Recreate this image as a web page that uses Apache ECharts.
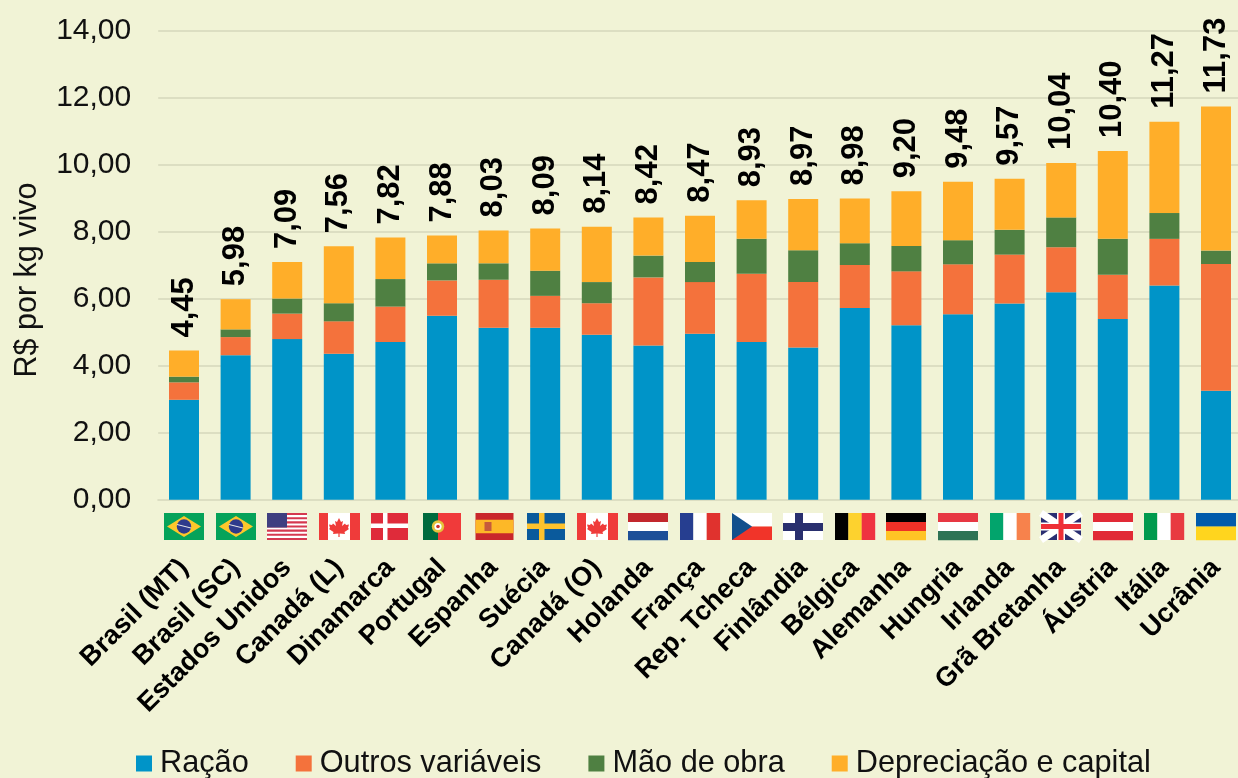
<!DOCTYPE html>
<html>
<head>
<meta charset="utf-8">
<script src="https://cdn.jsdelivr.net/npm/echarts@6/dist/echarts.min.js"></script>
<style>
  html, body { margin: 0; padding: 0; background: #f1f3d6; }
  #chart { width: 1238px; height: 778px; }
</style>
</head>
<body>
<div id="chart"></div>
<script type="text/javascript">
var paises = ['Brasil (MT)', 'Brasil (SC)', 'Estados Unidos', 'Canadá (L)', 'Dinamarca', 'Portugal', 'Espanha', 'Suécia', 'Canadá (O)', 'Holanda', 'França', 'Rep. Tcheca', 'Finlândia', 'Bélgica', 'Alemanha', 'Hungria', 'Irlanda', 'Grã Bretanha', 'Áustria', 'Itália', 'Ucrânia'];
var bandeiras = ['br', 'br', 'us', 'ca', 'dk', 'pt', 'es', 'se', 'ca', 'nl', 'fr', 'cz', 'fi', 'be', 'de', 'hu', 'ie', 'gb', 'at', 'it', 'ua'];
var racao = [2.98, 4.31, 4.79, 4.35, 4.70, 5.49, 5.13, 5.13, 4.92, 4.60, 4.95, 4.70, 4.54, 5.72, 5.20, 5.53, 5.85, 6.19, 5.39, 6.39, 3.25];
var outros = [0.52, 0.54, 0.76, 0.97, 1.06, 1.05, 1.43, 0.95, 0.94, 2.03, 1.54, 2.04, 1.95, 1.28, 1.61, 1.49, 1.46, 1.34, 1.32, 1.39, 3.78];
var maoDeObra = [0.17, 0.23, 0.45, 0.54, 0.82, 0.51, 0.49, 0.75, 0.63, 0.65, 0.60, 1.04, 0.95, 0.65, 0.76, 0.72, 0.74, 0.89, 1.07, 0.77, 0.40];
var depreciacao = [0.78, 0.90, 1.09, 1.70, 1.24, 0.83, 0.98, 1.26, 1.65, 1.14, 1.38, 1.15, 1.53, 1.33, 1.63, 1.74, 1.52, 1.62, 2.62, 2.72, 4.30];
var totais = [4.45, 5.98, 7.09, 7.56, 7.82, 7.88, 8.03, 8.09, 8.14, 8.42, 8.47, 8.93, 8.97, 8.98, 9.20, 9.48, 9.57, 10.04, 10.40, 11.27, 11.73];

var fonte = '"Liberation Sans", Arial, sans-serif';
var virgula = function (v) { return v.toFixed(2).replace('.', ','); };

// desenho das bandeiras, caixa de 40 x 27
function ret(x, y, w, h, cor) {
    return { type: 'rect', shape: { x: x, y: y, width: w, height: h }, style: { fill: cor } };
}
function pol(pontos, cor) {
    return { type: 'polygon', shape: { points: pontos }, style: { fill: cor } };
}
function circ(x, y, r, cor) {
    return { type: 'circle', shape: { cx: x, cy: y, r: r }, style: { fill: cor } };
}
function linha(x1, y1, x2, y2, w, cor) {
    return { type: 'line', shape: { x1: x1, y1: y1, x2: x2, y2: y2 }, style: { stroke: cor, lineWidth: w } };
}
function faixasH(c) {
    return c.map(function (cor, i) { return ret(0, i * 27 / c.length, 40, 27 / c.length + 0.2, cor); });
}
function faixasV(c) {
    return c.map(function (cor, i) { return ret(i * 40 / c.length, 0, 40 / c.length + 0.2, 27, cor); });
}
function folha() {
    var p = [[20, 5], [22, 9], [24, 8], [23, 13], [26, 10.5], [27, 12], [30, 11.5], [29, 15], [30, 16], [25.5, 19], [26, 21], [20.6, 20.4], [20.6, 24], [19.4, 24], [19.4, 20.4], [14, 21], [14.5, 19], [10, 16], [11, 15], [10, 11.5], [13, 12], [14, 10.5], [17, 13], [16, 8], [18, 9]];
    return pol(p, '#ef3b3a');
}
var desenhos = {
    br: function () { return [ret(0, 0, 40, 27, '#05a35a'), pol([[20, 3], [37, 13.5], [20, 24], [3, 13.5]], '#fdc72b'), circ(20, 13.5, 7.2, '#2e3a8c'), linha(13, 11.5, 27, 15, 1, '#e8e8e8')]; },
    us: function () {
        var r = [ret(0, 0, 40, 27, '#ffffff')];
        for (var i = 0; i < 7; i++) { r.push(ret(0, i * 27 / 6.5, 40, 2.08, '#d5384f')); }
        r.push(ret(0, 0, 20, 14.5, '#3f3f80'));
        return r;
    },
    ca: function () { return [ret(0, 0, 41, 27, '#ef3b3a'), ret(9, 0, 22, 27, '#ffffff'), folha()]; },
    dk: function () { return [ret(1, 0, 37, 27, '#df2b3a'), ret(13, 0, 4.5, 27, '#ffffff'), ret(1, 10.5, 37, 4.5, '#ffffff')]; },
    pt: function () { return [ret(1, 0, 38, 27, '#f03a3a'), ret(1, 0, 15, 27, '#006a3e'), circ(16, 13.5, 6.2, '#e5c33c'), circ(16, 13.5, 3.6, '#ffffff'), circ(16, 13.5, 1.8, '#c9302c')]; },
    es: function () { return [ret(1.5, 0, 38, 27, '#c9272b'), ret(1.5, 6.7, 38, 13.6, '#fdb827'), ret(10.5, 9, 7, 9, '#c65b3c')]; },
    se: function () { return [ret(2, 0, 38, 27, '#0a5a9c'), ret(14, 0, 5.5, 27, '#fdc22d'), ret(2, 10.5, 38, 5.5, '#fdc22d')]; },
    nl: function () { return faixasH(['#c2272d', '#ffffff', '#1d4f98']); },
    fr: function () { return faixasV(['#263e90', '#ffffff', '#e0322e']); },
    cz: function () { return [ret(0, 0, 40, 13.5, '#ffffff'), ret(0, 13.5, 40, 13.5, '#f13429'), pol([[0, 0], [20, 13.5], [0, 27]], '#124f8c')]; },
    fi: function () { return [ret(0, 0, 40, 27, '#ffffff'), ret(12, 0, 8, 27, '#292f6e'), ret(0, 10, 40, 8, '#292f6e')]; },
    be: function () { return faixasV(['#000000', '#fdd22e', '#ef3340']); },
    de: function () { return faixasH(['#000000', '#ef3127', '#ffc425']); },
    hu: function () { return faixasH(['#e73843', '#ffffff', '#2e7355']); },
    ie: function () { return faixasV(['#02a46c', '#ffffff', '#f7824c']); },
    gb: function () {
        return [ret(0, 0, 40, 27, '#2a2e72'), linha(0, 0, 40, 27, 7, '#ffffff'), linha(40, 0, 0, 27, 7, '#ffffff'),
            ret(16, 0, 8, 27, '#ffffff'), ret(0, 9.5, 40, 8, '#ffffff'), ret(17.5, 0, 5, 27, '#ee2f36'), ret(0, 11, 40, 5, '#ee2f36')];
    },
    at: function () { return faixasH(['#e12a36', '#ffffff', '#e12a36']); },
    it: function () { return faixasV(['#009a4e', '#ffffff', '#e83b41']); },
    ua: function () { return faixasH(['#005bab', '#ffd51e']); }
};

var barra = function (nome, valores, cor) {
    return { name: nome, type: 'bar', stack: 'custo', data: valores, barWidth: 30, itemStyle: { color: cor } };
};

var option = {
    backgroundColor: '#f1f3d6',
    animation: false,
    textStyle: { fontFamily: fonte },
    grid: { left: 158.2, top: 30.3, width: 1083.6, height: 469.4, outerBoundsMode: 'none' },
    legend: {
        data: ['Ração', 'Outros variáveis', 'Mão de obra', 'Depreciação e capital'],
        left: 131,
        top: 743,
        icon: 'rect',
        itemWidth: 16,
        itemHeight: 16,
        itemGap: 47,
        textStyle: { fontFamily: fonte, fontSize: 30.7, color: '#111111', padding: [0, 0, 0, 3] }
    },
    xAxis: {
        type: 'category',
        data: paises,
        axisTick: { show: false },
        axisLine: { lineStyle: { color: '#dcdec2', width: 2 } },
        axisLabel: { interval: 0, rotate: 45, margin: 64, padding: [4, 0, 0, 0], fontFamily: fonte, fontSize: 27, fontWeight: 'bold', color: '#000000' }
    },
    yAxis: {
        type: 'value',
        min: 0,
        max: 14,
        interval: 2,
        name: 'R$ por kg vivo',
        nameLocation: 'middle',
        nameGap: 115,
        nameTextStyle: { fontFamily: fonte, fontSize: 30.5, color: '#111111', padding: [0, 30, 0, 0] },
        axisLine: { show: false },
        axisTick: { show: false },
        axisLabel: { formatter: virgula, margin: 27, fontFamily: fonte, fontSize: 30, color: '#111111' },
        splitLine: { lineStyle: { color: '#dcdec2', width: 2 } }
    },
    series: [
        barra('Ração', racao, '#0094c8'),
        barra('Outros variáveis', outros, '#f4723c'),
        barra('Mão de obra', maoDeObra, '#4f8042'),
        barra('Depreciação e capital', depreciacao, '#ffae29'),
        {
            name: 'Total',
            type: 'scatter',
            data: totais,
            symbolSize: 0,
            silent: true,
            itemStyle: { opacity: 1 },
            label: {
                show: true,
                position: 'top',
                distance: 9,
                offset: [4, 0],
                rotate: 90,
                align: 'left',
                verticalAlign: 'middle',
                formatter: function (p) { return virgula(p.value); },
                fontFamily: fonte,
                fontSize: 31,
                fontWeight: 'bold',
                color: '#000000'
            }
        },
        {
            name: 'Bandeiras',
            type: 'custom',
            data: bandeiras.map(function (b, i) { return [i, 0]; }),
            encode: { x: 0, y: 1 },
            silent: true,
            renderItem: function (params, api) {
                var p = api.coord([api.value(0), 0]);
                return {
                    type: 'group',
                    x: Math.round(p[0]) - 20,
                    y: Math.round(p[1]) + 13,
                    children: desenhos[bandeiras[params.dataIndex]]()
                };
            }
        }
    ]
};
var chart = echarts.init(document.getElementById('chart'));
chart.setOption(option);
</script>
</body>
</html>
